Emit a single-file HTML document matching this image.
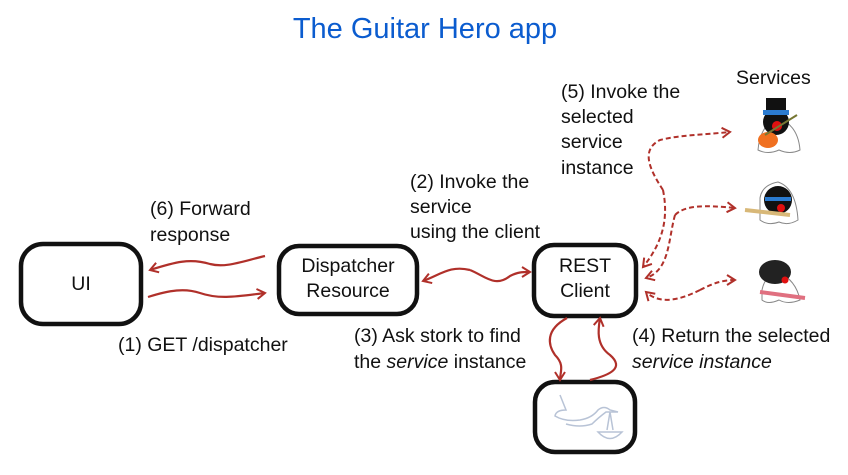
<!DOCTYPE html>
<html><head><meta charset="utf-8"><style>
html,body{margin:0;padding:0;background:#fff;}
svg{display:block;}
text{font-family:"Liberation Sans",sans-serif;fill:#111;}
</style></head><body>
<svg width="848" height="475" viewBox="0 0 848 475" xmlns="http://www.w3.org/2000/svg">
<defs>
<marker id="ah" markerWidth="12" markerHeight="12" refX="9" refY="6" orient="auto" markerUnits="userSpaceOnUse">
<path d="M1,1 L9,6 L1,11" fill="none" stroke="#b0302a" stroke-width="2"/>
</marker>
</defs>
<text x="425" y="38" text-anchor="middle" font-size="29" style="fill:#0b5ccf">The Guitar Hero app</text>

<!-- boxes -->
<g fill="none" stroke="#111" stroke-width="4.5">
<rect x="21" y="244" width="120" height="80" rx="22"/>
<rect x="279" y="246" width="138" height="68" rx="20"/>
<rect x="534" y="245" width="102" height="71" rx="20"/>
<rect x="535" y="382" width="100" height="70" rx="20"/>
</g>
<text x="81" y="290" font-size="19.5" text-anchor="middle">UI</text>
<text x="348" y="272" font-size="19.5" text-anchor="middle">Dispatcher</text>
<text x="348" y="297" font-size="19.5" text-anchor="middle">Resource</text>
<text x="585" y="272" font-size="19.5" text-anchor="middle">REST</text>
<text x="585" y="297" font-size="19.5" text-anchor="middle">Client</text>

<!-- stork -->
<g fill="none" stroke="#b8c3d6" stroke-width="1.5">
<path d="M560,395 L566,410 Q556,410 555,416 Q565,422 580,420 Q592,418 598,410 Q604,405 610,410 L618,412 L606,412 Q598,418 592,424 Q580,428 566,424"/>
<path d="M610,412 L607,430 M610,412 L613,430 M598,432 Q610,445 622,432 Z"/>
</g>

<!-- arrows -->
<g fill="none" stroke="#b0302a" stroke-width="2.2">
<path d="M265,256 C240,262 225,268 210,264 C190,258 175,262 150,270" marker-end="url(#ah)"/>
<path d="M148,297 C170,290 185,288 200,293 C220,300 240,296 265,293" marker-end="url(#ah)"/>
<path d="M470,270 C450,265 440,275 423,281" marker-end="url(#ah)"/>
<path d="M470,270 C485,276 495,288 510,276 C518,272 522,272 530,272" marker-end="url(#ah)"/>
<path d="M567,318 C545,330 548,345 555,355 C565,365 560,372 560,380" marker-end="url(#ah)"/>
<path d="M590,380 C610,375 625,368 610,355 C596,345 598,330 600,318" marker-end="url(#ah)"/>
</g>
<g fill="none" stroke="#b0302a" stroke-width="2" stroke-dasharray="5,3">
<path d="M663,190 C650,170 640,150 660,140 C680,135 700,135 730,132" marker-end="url(#ah)"/>
<path d="M663,190 C668,215 665,240 643,267" marker-end="url(#ah)"/>
<path d="M675,215 C685,205 705,205 735,208" marker-end="url(#ah)"/>
<path d="M675,215 C668,240 670,270 646,278" marker-end="url(#ah)"/>
<path d="M700,290 C710,285 720,280 735,280" marker-end="url(#ah)"/>
<path d="M700,290 C680,300 660,305 646,292" marker-end="url(#ah)"/>
</g>

<!-- mascots -->
<g>
<path d="M758,150 Q760,125 778,118 Q798,125 800,150 Q790,155 779,150 Q768,155 758,150Z" fill="#fff" stroke="#888" stroke-width="1"/>
<circle cx="776" cy="122" r="13" fill="#111"/><rect x="766" y="98" width="20" height="16" fill="#111"/><rect x="763" y="110" width="26" height="5" fill="#2b7bd0"/>
<circle cx="777" cy="126" r="5" fill="#e01010"/><ellipse cx="768" cy="140" rx="10" ry="8" fill="#f07020"/>
<path d="M765,135 L797,115" stroke="#773" stroke-width="2"/>
<path d="M760,198 Q762,185 778,182 Q796,188 798,220 Q788,226 779,222 Q768,226 760,220Z" fill="#fff" stroke="#888" stroke-width="1"/>
<circle cx="778" cy="200" r="14" fill="#111"/><rect x="765" y="197" width="26" height="4" fill="#2b7bd0"/><circle cx="781" cy="208" r="4" fill="#e01010"/>
<path d="M745,210 L790,215" stroke="#d8b878" stroke-width="4"/>
<path d="M762,290 Q765,275 778,272 Q796,280 800,300 Q788,305 779,300 Q768,305 762,300Z" fill="#fff" stroke="#888" stroke-width="1"/>
<ellipse cx="775" cy="272" rx="16" ry="12" fill="#222"/><circle cx="785" cy="280" r="3.5" fill="#e01010"/>
<path d="M760,292 L805,298" stroke="#e07080" stroke-width="4"/>
</g>

<!-- labels -->
<g font-size="19.5">
<text x="150" y="215">(6) Forward</text>
<text x="150" y="241">response</text>
<text x="118" y="351">(1) GET /dispatcher</text>
<text x="410" y="188">(2) Invoke the</text>
<text x="410" y="213">service</text>
<text x="410" y="238">using the client</text>
<text x="354" y="342">(3) Ask stork to find</text>
<text x="354" y="368">the <tspan font-style="italic">service</tspan> instance</text>
<text x="632" y="342">(4) Return the selected</text>
<text x="632" y="368" font-style="italic">service instance</text>
<text x="561" y="98">(5) Invoke the</text>
<text x="561" y="123">selected</text>
<text x="561" y="148">service</text>
<text x="561" y="174">instance</text>
<text x="736" y="84">Services</text>
</g>
</svg>
</body></html>
